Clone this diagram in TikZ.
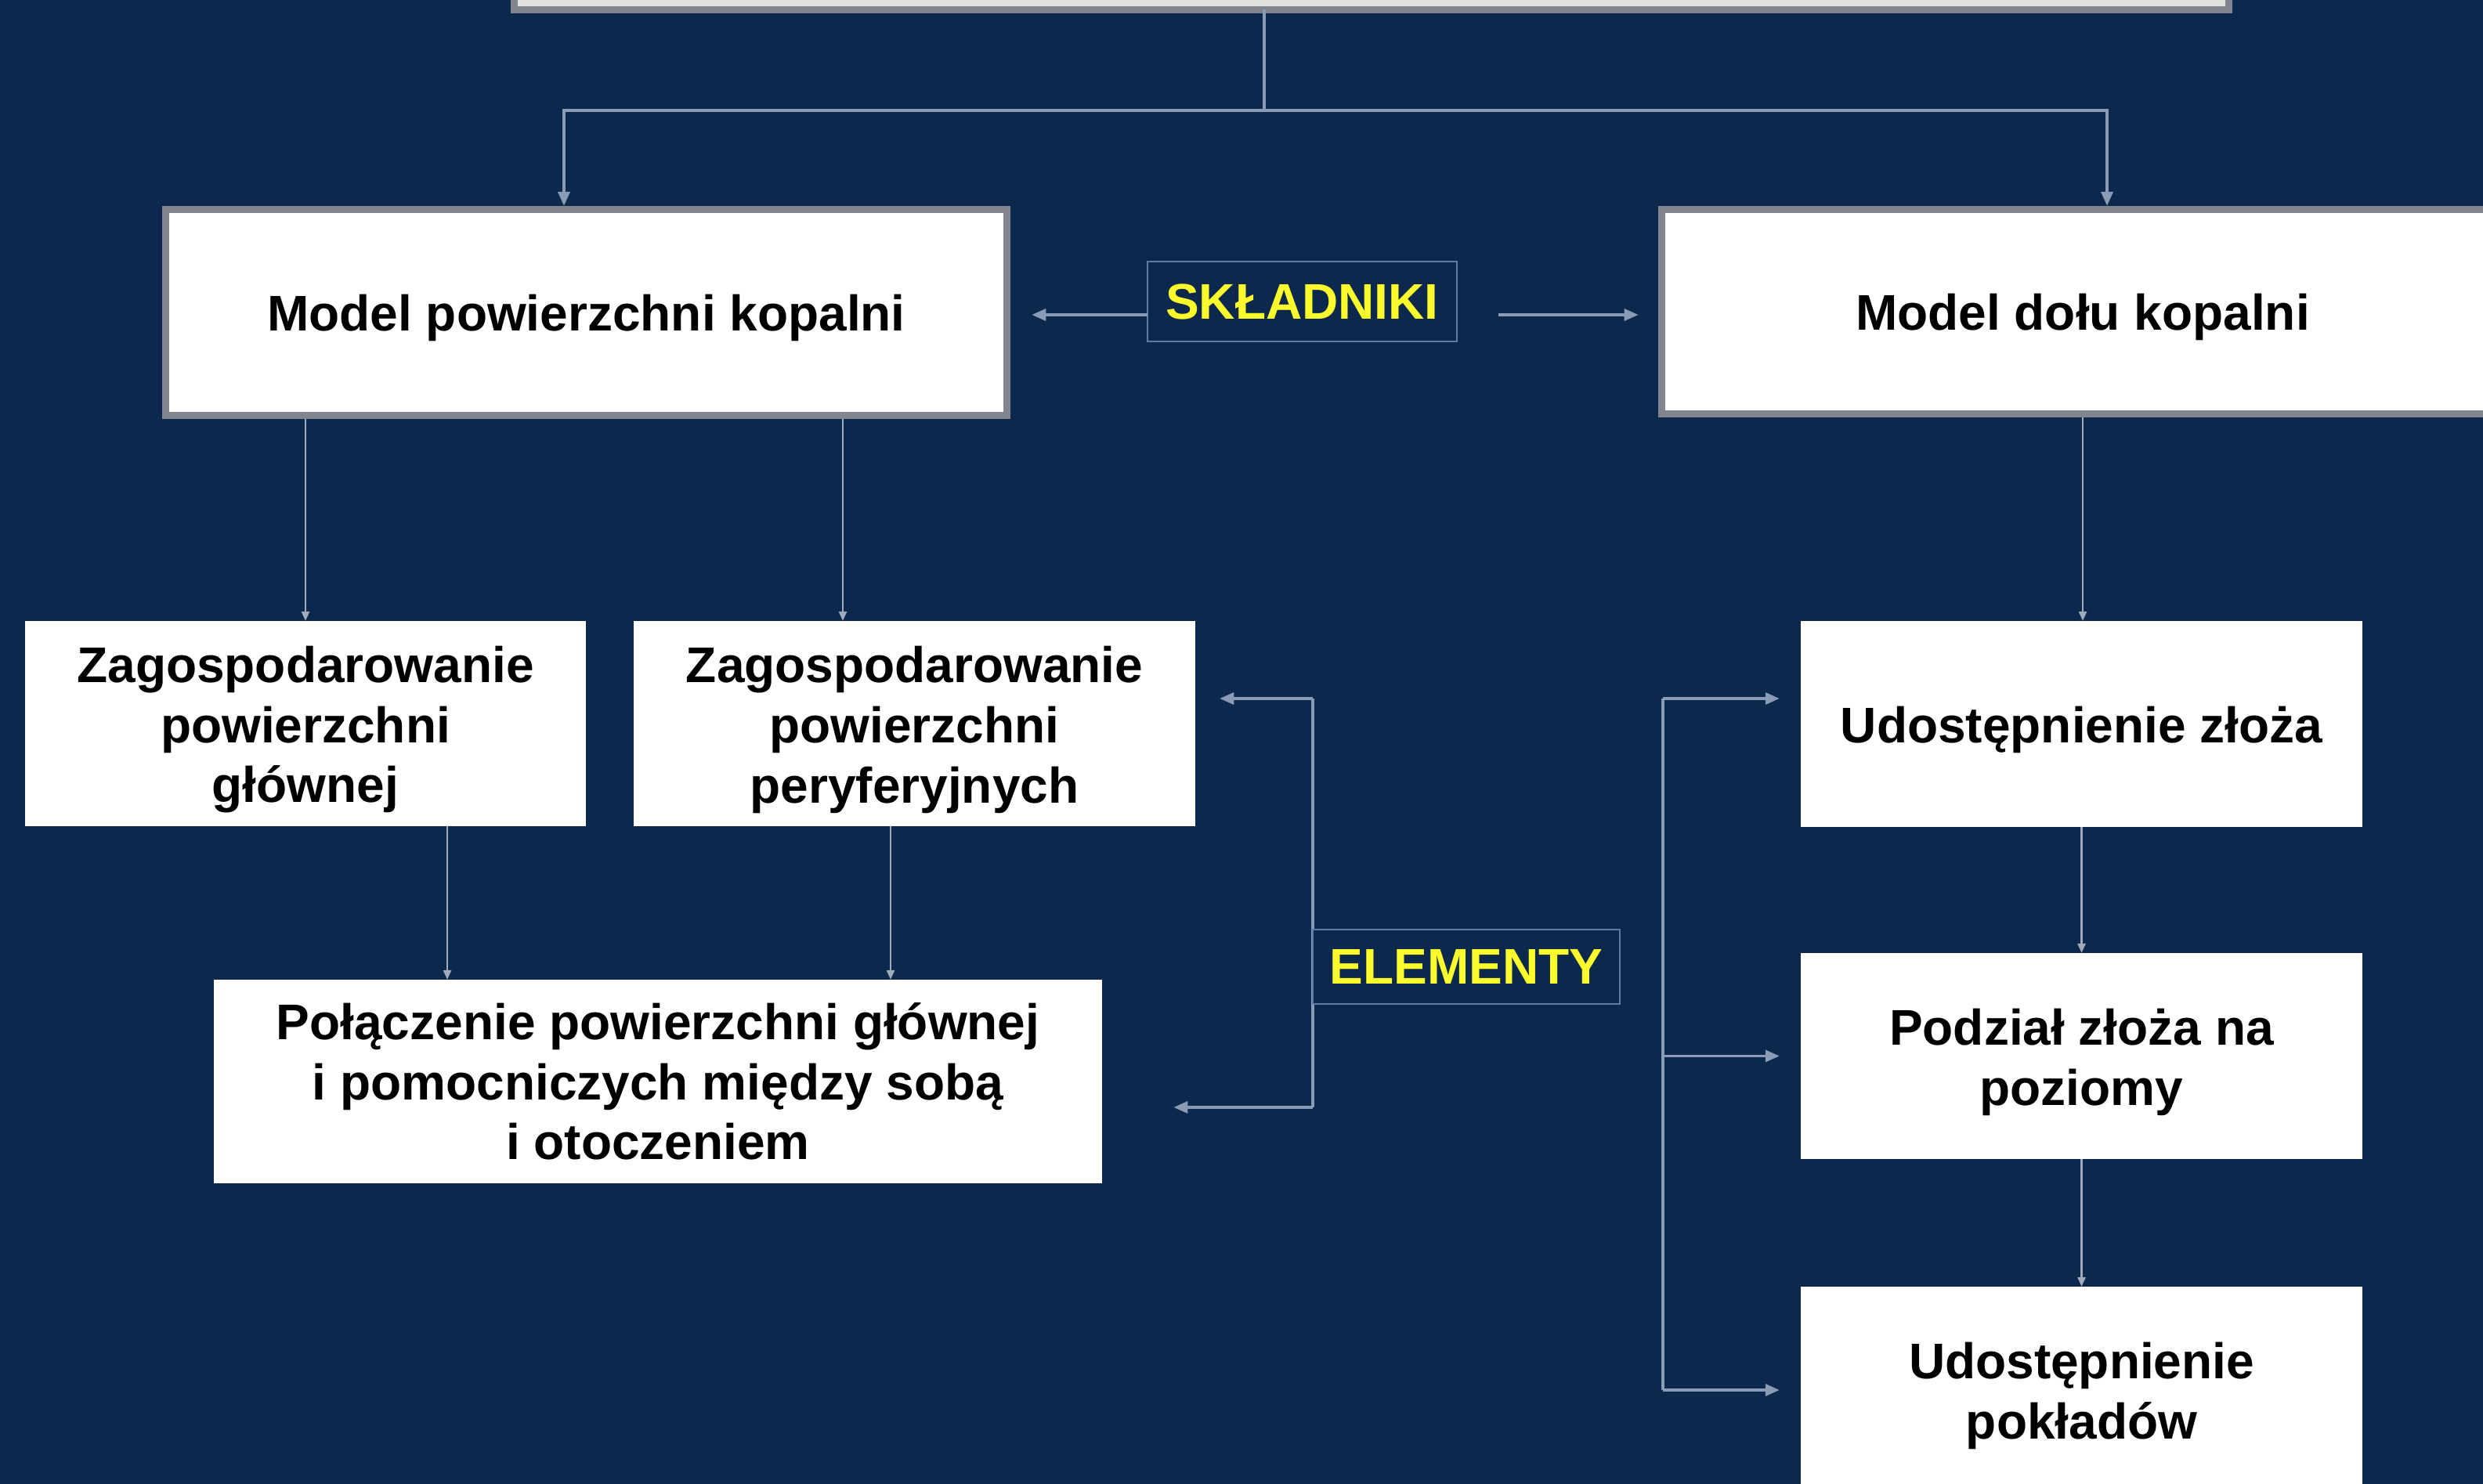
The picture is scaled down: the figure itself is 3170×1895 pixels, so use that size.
\documentclass[tikz,border=0pt]{standalone}
\usepackage{fontspec}
\setmainfont{Liberation Sans}
\usetikzlibrary{arrows.meta}
\definecolor{bgc}{RGB}{12,40,77}
\definecolor{clink}{RGB}{138,155,182}
\definecolor{cvlink}{RGB}{160,170,186}
\definecolor{cframe}{RGB}{128,133,142}
\definecolor{clab}{RGB}{95,122,165}
\definecolor{cylw}{RGB}{250,250,45}
\definecolor{ctop}{RGB}{226,226,220}
\newcommand{\topstrut}{\rule{0pt}{0.61cm}}
\begin{document}
\begin{tikzpicture}[x=0.01cm,y=-0.01cm,
  txt/.style={font=\fontsize{18.2pt}{21.8pt}\selectfont\bfseries, align=center, text=black},
  bigbox/.style={txt, draw=cframe, line width=0.09cm, fill=white, inner sep=0pt, outer sep=0pt},
  box/.style={txt, fill=white, inner sep=0pt, outer sep=0pt},
  lab/.style={font=\fontsize{18.2pt}{21.8pt}\selectfont\bfseries, text=cylw, draw=clab, line width=0.02cm, fill=bgc, inner sep=0pt, outer sep=0pt},
  link/.style={draw=clink, line width=0.035cm},
  arr/.style={link, -{Triangle[length=0.18cm,width=0.15cm]}},
  vlink/.style={draw=cvlink, line width=0.025cm, -{Triangle[length=0.12cm,width=0.1cm]}},
]
\useasboundingbox (0,0) rectangle (3170,1895);
\clip (0,0) rectangle (3170,1895);
\fill[bgc] (0,0) rectangle (3170,1895);

% nodes
\node[bigbox, fill=ctop, minimum width=21.88cm, minimum height=2.12cm] (top) at (1751,-94) {};
\node[bigbox, minimum width=10.73cm, minimum height=2.62cm] (mp) at (748.5,399) {\topstrut Model powierzchni kopalni};
\node[bigbox, minimum width=10.74cm, minimum height=2.60cm] (md) at (2659,398) {\topstrut Model dołu kopalni};
\node[lab, minimum width=3.95cm, minimum height=1.02cm] (skl) at (1662.5,385) {SKŁADNIKI};
\node[box, minimum width=7.16cm, minimum height=2.62cm] (zg) at (390,924) {\rule{0pt}{0.62cm}Zagospodarowanie\\powierzchni\\głównej};
\node[box, minimum width=7.17cm, minimum height=2.62cm] (zp) at (1167.5,924) {\rule{0pt}{0.62cm}Zagospodarowanie\\powierzchni\\peryferyjnych};
\node[box, minimum width=11.34cm, minimum height=2.60cm] (pol) at (840,1381) {Połączenie powierzchni głównej\\i pomocniczych między sobą\\i otoczeniem};
\node[box, minimum width=7.17cm, minimum height=2.63cm] (ud) at (2657.5,924.5) {\topstrut Udostępnienie złoża};
\node[box, minimum width=7.17cm, minimum height=2.63cm] (pz) at (2657.5,1348.5) {\rule{0pt}{0.62cm}Podział złoża na\\poziomy};
\node[box, minimum width=7.17cm, minimum height=2.63cm] (up) at (2657.5,1774.5) {\rule{0pt}{0.62cm}Udostępnienie\\pokładów};

% helper coordinates
\coordinate (j) at (1614,141);
\coordinate (jl) at (720,141);
\coordinate (jr) at (2690,141);
\coordinate (sy) at (0,402);
\coordinate (c2) at (1076,0);
\coordinate (c3) at (571,0);
\coordinate (c4) at (1137,0);
\coordinate (et) at (1676,892);
\coordinate (eb) at (1676,1414);
\coordinate (rt) at (2123,892);
\coordinate (rb) at (2123,1775);

% top tree
\draw[link] (top.south -| j) -- (j);
\draw[arr, shorten >=0.05cm] (j) -- (jl) -- (jl |- mp.north);
\draw[arr, shorten >=0.05cm] (j) -- (jr) -- (jr |- md.north);

% skladniki
\draw[arr, shorten >=0.32cm] (skl.west |- sy) -- (mp.east |- sy);
\draw[arr, shorten <=0.53cm, shorten >=0.30cm] (skl.east |- sy) -- (md.west |- sy);

% left branch
\draw[vlink, shorten <=0.05cm] (mp.south -| zg.north) -- (zg.north);
\draw[vlink, shorten <=0.05cm] (mp.south -| c2) -- (zp.north -| c2);
\draw[vlink] (zg.south -| c3) -- (pol.north -| c3);
\draw[vlink] (zp.south -| c4) -- (pol.north -| c4);

% elementy bracket
\draw[link] (et) -- (eb);
\draw[arr, shorten >=0.31cm] (et) -- (et -| zp.east);
\draw[arr, shorten >=0.91cm] (eb) -- (eb -| pol.east);
\node[lab, minimum width=3.92cm, minimum height=0.95cm] (el) at (1872,1234.5) {ELEMENTY};

% right branch
\draw[vlink, shorten <=0.05cm] (md.south) -- (md.south |- ud.north);
\draw[vlink] (ud.south) -- (pz.north);
\draw[vlink] (pz.south) -- (up.north);

% right bracket
\draw[link] (rt) -- (rb);
\draw[arr, shorten >=0.27cm] (rt) -- (rt -| ud.west);
\draw[arr, shorten >=0.27cm] (rt |- pz.west) -- (pz.west);
\draw[arr, shorten >=0.27cm] (rb) -- (rb -| up.west);
\end{tikzpicture}
\end{document}
